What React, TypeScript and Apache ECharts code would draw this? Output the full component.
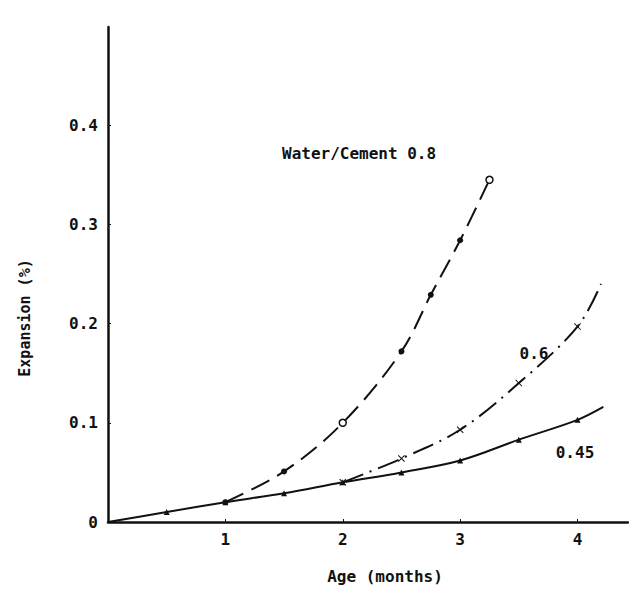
import React, { useEffect, useRef } from "react";
import * as echarts from "echarts";

// Age (months) / Expansion (%)
const wc08: [number, number][] = [
  [1, 0.02], [1.5, 0.051], [2, 0.1], [2.5, 0.172], [2.75, 0.229], [3, 0.284], [3.25, 0.345],
];
const wc06: [number, number][] = [
  [2, 0.04], [2.5, 0.064], [3, 0.093], [3.5, 0.14], [4, 0.197], [4.2, 0.24],
];
const wc045: [number, number][] = [
  [0, 0], [0.5, 0.01], [1, 0.02], [1.5, 0.029], [2, 0.04], [2.5, 0.05], [3, 0.062], [3.5, 0.083], [4, 0.103], [4.22, 0.116],
];
// points drawn with an open marker
const open08 = [2, 3.25];
// points on curves that carry no marker (curve ends)
const unmarked06 = [4.2];
const unmarked045 = [0, 4.22];

const FONT = "DejaVu Sans Mono";
const INK = "#111";
const FS = 16;

const crossPath =
  "path://M0,1L1,0L5,4L9,0L10,1L6,5L10,9L9,10L5,6L1,10L0,9L4,5Z";

export default function App() {
  const ref = useRef<HTMLDivElement>(null);
  useEffect(() => {
    if (!ref.current) return;
    const chart = echarts.init(ref.current, undefined, { renderer: "svg" });
    const mk = (
      pts: [number, number][],
      none: number[],
      symbol: string,
      size: number,
      open: number[] = []
    ) =>
      pts.map(([x, y]) => {
        if (none.includes(x)) return { value: [x, y], symbol: "none" };
        if (open.includes(x))
          return {
            value: [x, y],
            symbol: "circle",
            symbolSize: 7,
            itemStyle: { color: "#fff", borderColor: INK, borderWidth: 1.5 },
          };
        return { value: [x, y], symbol, symbolSize: size };
      });
    const txt = { fontFamily: FONT, fontSize: FS, fontWeight: "bold", fill: INK };
    chart.setOption({
      animation: false,
      backgroundColor: "#fff",
      grid: { left: 108, right: 9, top: 27, bottom: 82 },
      xAxis: {
        type: "value",
        min: 0,
        max: 4.43,
        interval: 1,
        axisLine: { lineStyle: { color: INK, width: 2.5 } },
        axisTick: { show: true, inside: true, length: 3, lineStyle: { color: INK } },
        axisLabel: {
          showMinLabel: false,
          showMaxLabel: false,
          margin: 9,
          fontFamily: FONT,
          fontSize: FS,
          fontWeight: "bold",
          color: INK,
        },
        splitLine: { show: false },
      },
      yAxis: {
        type: "value",
        min: 0,
        max: 0.499,
        interval: 0.1,
        axisLine: { lineStyle: { color: INK, width: 2.5 } },
        axisTick: { show: true, inside: true, length: 3, lineStyle: { color: INK } },
        axisLabel: {
          showMaxLabel: false,
          margin: 10,
          fontFamily: FONT,
          fontSize: FS,
          fontWeight: "bold",
          color: INK,
          formatter: (v: number) => (v === 0 ? "0" : v > 0.45 ? "" : v.toFixed(1)),
        },
        splitLine: { show: false },
      },
      series: [
        {
          name: "0.45",
          type: "line",
          smooth: 0.35,
          data: mk(wc045, unmarked045, "triangle", 6),
          lineStyle: { color: INK, width: 2 },
          itemStyle: { color: INK },
          z: 3,
        },
        {
          name: "0.6",
          type: "line",
          smooth: 0.35,
          data: mk(wc06, unmarked06, crossPath, 7),
          lineStyle: { color: INK, width: 2, type: [22, 7, 2, 7] },
          itemStyle: { color: INK },
          z: 3,
        },
        {
          name: "0.8",
          type: "line",
          smooth: 0.35,
          data: mk(wc08, [], "circle", 6, open08),
          lineStyle: { color: INK, width: 2, type: [20, 9] },
          itemStyle: { color: INK },
          z: 3,
        },
      ],
      graphic: [
        {
          type: "text",
          x: 282,
          y: 153,
          style: { ...txt, text: "Water/Cement 0.8", textVerticalAlign: "middle" },
        },
        {
          type: "text",
          x: 534,
          y: 353,
          style: { ...txt, text: "0.6", textAlign: "center", textVerticalAlign: "middle" },
        },
        {
          type: "text",
          x: 575,
          y: 452,
          style: { ...txt, text: "0.45", textAlign: "center", textVerticalAlign: "middle" },
        },
        {
          type: "text",
          x: 385,
          y: 576,
          style: { ...txt, text: "Age (months)", textAlign: "center", textVerticalAlign: "middle" },
        },
        {
          type: "text",
          x: 25,
          y: 318,
          rotation: Math.PI / 2,
          style: { ...txt, fontSize: 15, text: "Expansion (%)", textAlign: "center", textVerticalAlign: "middle" },
        },
      ],
    });
    return () => chart.dispose();
  }, []);
  return <div ref={ref} style={{ width: 637, height: 604, margin: -8 }} />;
}
